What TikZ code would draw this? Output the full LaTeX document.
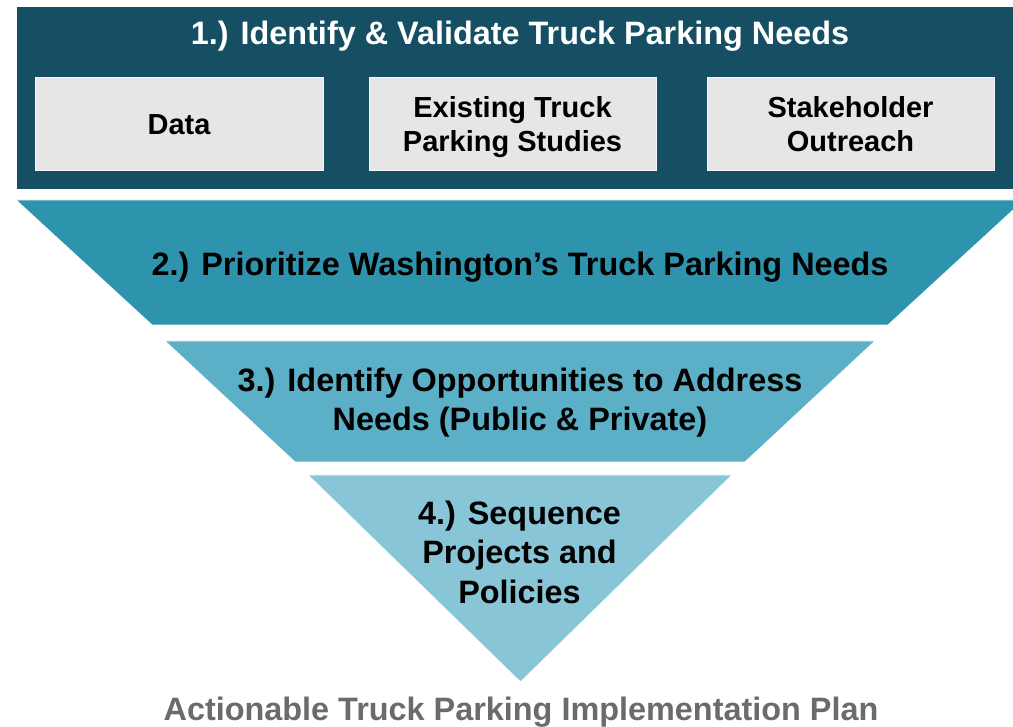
\documentclass[tikz,border=0pt]{standalone}
\usepackage{fontspec}
\setmainfont{Liberation Sans}
\definecolor{navy}{HTML}{164F63}
\definecolor{tealA}{HTML}{2E93AD}
\definecolor{tealB}{HTML}{5BAFC6}
\definecolor{tealC}{HTML}{88C6D7}
\definecolor{boxgray}{HTML}{E6E6E6}
\definecolor{capgray}{HTML}{6B6B6B}
\tikzset{
  band/.style={draw=white, line width=0.8pt},
  innerbox/.style={draw=white!60!boxgray, line width=0.8pt, fill=boxgray, minimum height=93pt, inner sep=0pt},
  bigtxt/.style={font=\bfseries\fontsize{32.4}{39}\selectfont, align=center, inner sep=0pt},
  smalltxt/.style={font=\bfseries\fontsize{29}{34}\selectfont, align=center, inner sep=0pt},
}
\begin{document}
\begin{tikzpicture}[x=1pt,y=-1pt]
\useasboundingbox (0,0) rectangle (1013,727);
\begin{scope}
\clip (0,0) rectangle (1013,727);
\path[band, fill=navy] (16,6) rectangle (1024,189);
\path[band, fill=tealA] (16,200) -- (1024,200) -- (888,325) -- (152,325) -- cycle;
\path[band, fill=tealB] (165,341) -- (875,341) -- (745,462) -- (295,462) -- cycle;
\path[band, fill=tealC] (308,475) -- (732,475) -- (520.5,682) -- cycle;
\end{scope}
% inner boxes
\node[innerbox, minimum width=288pt] (bdata) at (179,123.5) {};
\node[innerbox, minimum width=287pt] (bexist) at (512.5,123.5) {};
\node[innerbox, minimum width=287pt] (bstake) at (850.5,123.5) {};
\node[smalltxt, anchor=base] (tdata) at (bdata.center |- 0,135) {Data};
\node[smalltxt] (texist) at (bexist.center |- 0,127.3) {Existing Truck\\Parking Studies};
\node[smalltxt] (tstake) at (bstake.center |- 0,124.6) {Stakeholder\\Outreach};
% texts
\node[bigtxt, anchor=base, text=white] (t1) at (520,44.5) {1.) Identify \& Validate Truck Parking Needs};
\node[bigtxt, anchor=base] (t2) at (520,275.3) {2.) Prioritize Washington’s Truck Parking Needs};
\node[bigtxt, font=\bfseries\fontsize{32.4}{38.5}\selectfont] (t3) at (520,402.5) {3.) Identify Opportunities to Address\\Needs (Public \& Private)};
\node[bigtxt, font=\bfseries\fontsize{32.4}{39.5}\selectfont] (t4) at (519.5,552.2) {4.) Sequence\\Projects and\\Policies};
\node[bigtxt, anchor=base, text=capgray] (t5) at (521,720) {Actionable Truck Parking Implementation Plan};
\end{tikzpicture}
\end{document}
